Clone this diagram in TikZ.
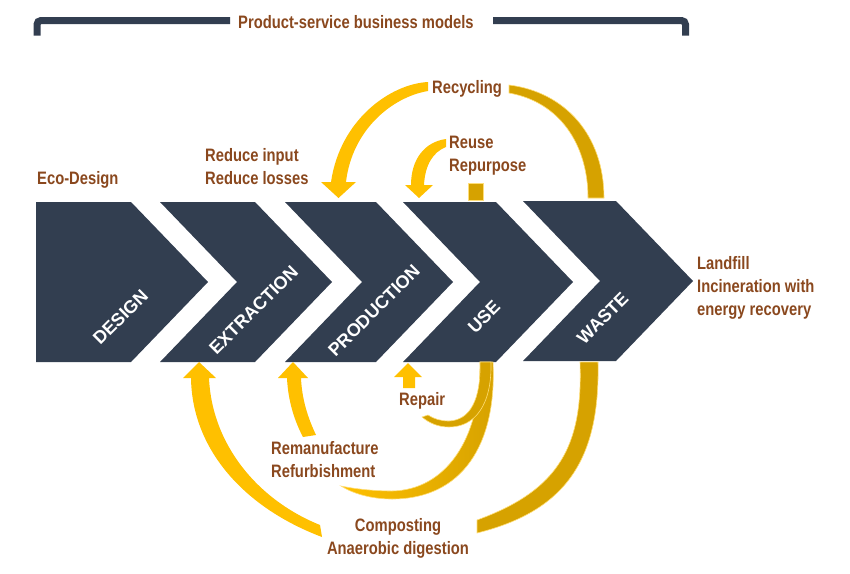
\documentclass[tikz,border=0pt]{standalone}
\usepackage{fontspec}
\setmainfont{Liberation Sans}
\newfontfamily\narrowfont[FakeStretch=0.82]{Liberation Sans}
\definecolor{slate}{RGB}{50,62,80}
\definecolor{ybright}{RGB}{255,192,0}
\definecolor{ygold}{RGB}{214,162,0}
\definecolor{ylight}{RGB}{255,222,120}
\definecolor{labbrown}{RGB}{138,72,30}
\begin{document}
\begin{tikzpicture}[x=1pt,y=-1pt,
  chev/.style={fill=slate},
  chevlab/.style={text=white,font=\bfseries\fontsize{18}{18}\selectfont,rotate=45,inner sep=0},
  lab/.style={text=labbrown,font=\narrowfont\bfseries\fontsize{18}{22}\selectfont,inner sep=0,anchor=base west},
  labc/.style={lab,anchor=base},
  bracket/.style={draw=slate,line width=7pt,rounded corners=4pt},
  yribbon/.style={fill=ybright},
  gribbon/.style={fill=ygold,draw=ylight,line width=0.6pt}]
\useasboundingbox (0,0) rectangle (850,573);

% bracket and title
\node[lab] (title) at (238,28) {Product-service business models};
\draw[bracket] (230,20.5) -| (37,35.5);
\draw[bracket] (493,20.5) -| (685.5,35.5);

% chevrons
\fill[chev] (36,202) -- (131,202) -- (208,282) -- (131,362) -- (36,362) -- cycle;
\fill[chev] (160,202) -- (255,202) -- (332,282) -- (255,362) -- (160,362) -- (237,282) -- cycle;
\fill[chev] (285,202) -- (376,202) -- (453,282) -- (376,362) -- (285,362) -- (362,282) -- cycle;
\fill[chev] (403,202) -- (496,202) -- (573,282) -- (496,362) -- (403,362) -- (480,282) -- cycle;
\fill[chev] (523,201) -- (616,201) -- (693,281) -- (616,361) -- (523,361) -- (600,281) -- cycle;

\node[chevlab] (design) at (120.5,317) {DESIGN};
\node[chevlab] (extraction) at (253.5,310) {EXTRACTION};
\node[chevlab] (production) at (374,310.5) {PRODUCTION};
\node[chevlab] (use) at (484,317) {USE};
\node[chevlab] (waste) at (602.5,318) {WASTE};

% top arrows
% recycling left
\fill[yribbon] (428,82) .. controls (390,84) and (340,120) .. (331,182)
  -- (321,182) -- (338.5,198) -- (356,182) -- (346,182)
  .. controls (352,130) and (392,97) .. (428,91) -- cycle;
% recycling right
\filldraw[gribbon] (509,85) .. controls (565,92) and (604,135) .. (604,198)
  -- (588,198) .. controls (588,145) and (560,102) .. (509,93) -- cycle;
% reuse
\fill[yribbon] (446,139) .. controls (424,142) and (411,160) .. (411,185)
  -- (405,185) -- (419,198) -- (433,185) -- (424,185)
  .. controls (425,165) and (433,152) .. (446,147) -- cycle;
\filldraw[gribbon] (468,183) rectangle (483,200);

% bottom arrows
% composting left
\fill[yribbon] (191,378) .. controls (192,450) and (245,508) .. (322,537)
  -- (320,525) .. controls (258,500) and (212,445) .. (209,378)
  -- (216,378) -- (199,362) -- (183,378) -- cycle;
% remanufacture head
\fill[yribbon] (287,378) .. controls (288,400) and (294,420) .. (303,437)
  -- (316,435) .. controls (308,418) and (302,400) .. (301,378)
  -- (308,378) -- (293,362) -- (278,378) -- cycle;
% repair head
\fill[yribbon] (403,388) -- (403,377) -- (394,377) -- (408,363) -- (422,377) -- (415,377) -- (415,388) -- cycle;
% remanufacture tail
\path[left color=ybright,right color=ygold,draw=ylight,line width=0.6pt]
  (493,362) .. controls (497,445) and (462,499) .. (392,499)
  .. controls (370,499) and (352,493) .. (341,486)
  .. controls (355,489) and (375,491) .. (392,491)
  .. controls (445,490) and (481,440) .. (480,362) -- cycle;
% repair tail
\filldraw[gribbon] (491,362) .. controls (492,405) and (475,427) .. (449,427)
  .. controls (438,427) and (429,423) .. (422,417)
  -- (428,415) .. controls (434,419) and (441,421) .. (449,421)
  .. controls (470,420) and (481,400) .. (480,362) -- cycle;
% composting right
\filldraw[gribbon] (598,362) .. controls (600,455) and (570,510) .. (477,533)
  -- (477,520) .. controls (560,490) and (583,445) .. (580,362) -- cycle;

% labels
\node[lab] (recycling) at (432,93) {Recycling};
\node[lab] (reduce1) at (205,161) {Reduce input};
\node[lab] (reduce2) at (205,184) {Reduce losses};
\node[lab] (eco) at (37,184) {Eco-Design};
\node[lab] (reuse) at (449,148) {Reuse};
\node[lab] (repurpose) at (449,171) {Repurpose};
\node[lab] (landfill) at (697,269) {Landfill};
\node[lab] (incin) at (697,292) {Incineration with};
\node[lab] (energy) at (697,315) {energy recovery};
\node[lab] (repair) at (399,405) {Repair};
\node[lab] (reman) at (271,454) {Remanufacture};
\node[lab] (refurb) at (271,477) {Refurbishment};
\node[labc] (compost) at (398,531) {Composting};
\node[labc] (anaer) at (398,554) {Anaerobic digestion};
\end{tikzpicture}
\end{document}
